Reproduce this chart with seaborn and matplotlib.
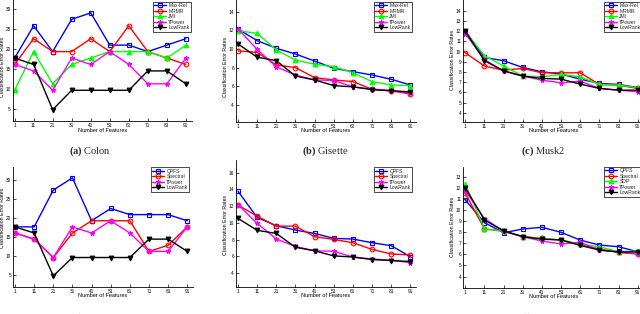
import matplotlib
matplotlib.use("Agg")
import matplotlib.pyplot as plt
import seaborn as sns

features = [1, 11, 21, 31, 41, 51, 61, 71, 81, 91]
tick_labels = [str(v) for v in features]

# (a) Colon
colon_maxrel = [17.74, 25.81, 19.35, 27.42, 29.03, 20.97, 20.97, 19.35, 20.97, 22.58]
colon_mrmr = [16.13, 22.58, 19.35, 19.35, 22.58, 19.35, 25.81, 19.35, 17.74, 16.13]
colon_jmi = [9.68, 19.35, 11.29, 16.13, 17.74, 19.35, 19.35, 19.35, 17.74, 20.97]
colon_tpower = [16.13, 14.52, 9.68, 17.74, 16.13, 19.35, 16.13, 11.29, 11.29, 17.74]
colon_lowrank = [17.74, 16.13, 4.84, 9.68, 9.68, 9.68, 9.68, 14.52, 14.52, 11.29]
# (d) Colon
colon_qpfs = [17.74, 17.74, 27.42, 30.65, 19.35, 22.58, 20.97, 20.97, 20.97, 19.35]
colon_spectral = [16.13, 14.52, 9.68, 16.13, 19.35, 19.35, 19.35, 11.29, 12.90, 17.74]

# (b) Gisette
gisette_maxrel = [12.14, 10.90, 10.07, 9.46, 8.71, 7.93, 7.57, 7.21, 6.75, 6.14]
gisette_mrmr = [9.79, 9.64, 8.29, 8.00, 6.93, 6.68, 6.50, 5.68, 5.50, 5.18]
gisette_jmi = [11.96, 11.68, 9.89, 8.82, 8.36, 8.11, 7.46, 6.50, 6.14, 6.07]
gisette_tpower = [12.15, 9.95, 8.09, 7.20, 6.68, 6.62, 5.94, 5.70, 5.55, 5.27]
gisette_lowrank = [10.54, 9.12, 8.75, 7.10, 6.68, 6.07, 5.94, 5.64, 5.52, 5.40]
# (e) Gisette
gisette_qpfs = [13.78, 10.65, 9.66, 9.15, 8.75, 8.16, 8.08, 7.64, 7.29, 5.98]
gisette_spectral = [12.12, 10.80, 9.62, 9.62, 8.36, 8.04, 7.64, 6.85, 6.30, 6.18]

# (c) Musk2
musk_maxrel = [12.00, 9.42, 9.10, 8.44, 8.02, 7.79, 7.30, 6.88, 6.78, 6.48]
musk_mrmr = [9.88, 8.58, 8.18, 8.35, 7.92, 7.92, 7.92, 6.78, 6.71, 6.39]
musk_jmi = [11.94, 9.59, 8.58, 7.60, 7.53, 7.76, 7.53, 6.78, 6.71, 6.48]
musk_tpower = [11.75, 9.23, 8.08, 7.60, 7.20, 6.94, 7.10, 6.39, 6.22, 6.06]
musk_lowrank = [12.00, 9.10, 8.12, 7.60, 7.37, 7.30, 6.81, 6.39, 6.22, 6.22]
# (f) Musk2
musk_qpfs = [10.90, 8.86, 7.95, 8.29, 8.44, 7.99, 7.29, 6.84, 6.69, 6.24]
musk_spectral = [11.50, 8.29, 8.10, 7.60, 7.44, 7.29, 6.90, 6.48, 6.18, 6.03]
musk_sdp = [12.34, 8.29, 8.10, 7.60, 7.44, 7.29, 6.90, 6.69, 6.24, 6.30]

sns.set_theme(style="ticks")
plt.rcParams['font.family'] = ['Liberation Sans', 'DejaVu Sans']
plt.rcParams['mathtext.fontset'] = 'custom'
plt.rcParams['mathtext.rm'] = 'Liberation Serif'
plt.rcParams['mathtext.bf'] = 'Liberation Serif:bold'

W, H = 640, 314
fig = plt.figure(figsize=(6.4, 3.14), dpi=100)
fig.patch.set_facecolor('white')

STY = {
    'Max-Rel': ('#0000ff', 's', 'none'),
    'QPFS': ('#0000ff', 's', 'none'),
    'MRMR': ('#ff0000', 'o', 'none'),
    'Spectral': ('#ff0000', 'o', 'none'),
    'JMI': ('#00ff00', '^', 'full'),
    'SDP': ('#00ff00', '^', 'full'),
    'TPower': ('#ff00ff', '*', 'full'),
    'LowRank': ('#000000', 'v', 'full'),
}


def panel(box, ylim, yticks, series, leg_anchor, ylab_y, caption, cap_xy):
    left, top, right, bottom = box
    ax = fig.add_axes([left / W, 1 - bottom / H, (right - left) / W, (bottom - top) / H])
    ax.set_facecolor('none')
    for name, vals in series:
        c, m, fill = STY[name]
        sns.lineplot(x=features, y=vals, ax=ax, color=c, marker=m, markersize=3.4,
                     markerfacecolor=(c if fill == 'full' else 'none'),
                     markeredgecolor=c, markeredgewidth=0.8, linewidth=1.0,
                     label=name)
    ax.set_xlim(0, 94)
    ax.set_ylim(*ylim)
    ax.set_xticks(features)
    ax.set_xticklabels(tick_labels)
    ax.set_yticks(yticks)
    ax.set_yticklabels([str(v) for v in yticks])
    ax.tick_params(direction='in', length=2, width=0.5, labelsize=3.4, pad=1.5,
                   colors='black')
    sns.despine(ax=ax)
    for s in ('left', 'bottom'):
        ax.spines[s].set_linewidth(0.6)
        ax.spines[s].set_color('black')
    ax.set_xlabel('Number of Features', fontsize=4.0, color='black')
    ax.xaxis.label.set_va('center')
    ax.xaxis.set_label_coords(0.5, -9.0 / (bottom - top))
    ax.set_ylabel('Classification Error Rates', fontsize=3.8, color='black')
    ax.yaxis.label.set_va('center')
    ax.yaxis.set_label_coords(-10.5 / (right - left), (bottom - ylab_y) / (bottom - top))
    leg = ax.legend(loc='upper right', bbox_to_anchor=(leg_anchor[0] / W, 1 - leg_anchor[1] / H),
                    bbox_transform=fig.transFigure, fontsize=3.6, frameon=True,
                    fancybox=False, edgecolor='black', framealpha=1, borderpad=0.3,
                    labelspacing=0.1, handlelength=2.4, handletextpad=0.4,
                    borderaxespad=0)
    leg.get_frame().set_linewidth(0.5)
    fig.text(cap_xy[0] / W, 1 - cap_xy[1] / H, caption, ha='center', va='center',
             fontsize=7.5, family='Liberation Serif')
    return ax


panel((12.7, -5, 191.6, 121), (2, 33.5), [5, 10, 15, 20, 25, 30],
      [('Max-Rel', colon_maxrel), ('MRMR', colon_mrmr), ('JMI', colon_jmi),
       ('TPower', colon_tpower), ('LowRank', colon_lowrank)],
      (191, 1.7), 67, r'$\mathbf{(a)}$ Colon', (90, 151.7))

panel((236.1, -2.3, 416, 121.7), (2.2, 15.5), [4, 6, 8, 10, 12, 14],
      [('Max-Rel', gisette_maxrel), ('MRMR', gisette_mrmr), ('JMI', gisette_jmi),
       ('TPower', gisette_tpower), ('LowRank', gisette_lowrank)],
      (412, 1.7), 67, r'$\mathbf{(b)}$ Gisette', (324.7, 151.7))

panel((463.4, -1.5, 643.4, 122), (3.1, 15.2), list(range(4, 15)),
      [('Max-Rel', musk_maxrel), ('MRMR', musk_mrmr), ('JMI', musk_jmi),
       ('TPower', musk_tpower), ('LowRank', musk_lowrank)],
      (642, 1.7), 60, r'$\mathbf{(c)}$ Musk2', (542.7, 151.7))

panel((13.1, 167, 193, 286.7), (2, 33.5), [5, 10, 15, 20, 25, 30],
      [('QPFS', colon_qpfs), ('Spectral', colon_spectral), ('TPower', colon_tpower),
       ('LowRank', colon_lowrank)],
      (189, 167), 218, r'$\mathbf{(d)}$ Colon', (90, 318))

panel((236.1, 160, 416, 286.7), (2.4, 17.5), [4, 6, 8, 10, 12, 14, 16],
      [('QPFS', gisette_qpfs), ('Spectral', gisette_spectral), ('TPower', gisette_tpower),
       ('LowRank', gisette_lowrank)],
      (412, 167), 225, r'$\mathbf{(e)}$ Gisette', (324.7, 318))

panel((463.4, 166.7, 643.4, 287.7), (3.0, 13.9), list(range(4, 14)),
      [('QPFS', musk_qpfs), ('Spectral', musk_spectral), ('SDP', musk_sdp),
       ('TPower', musk_tpower), ('LowRank', musk_lowrank)],
      (642, 166.7), 227, r'$\mathbf{(f)}$ Musk2', (542.7, 318))

fig.savefig('out.png', dpi=100, facecolor='white')
